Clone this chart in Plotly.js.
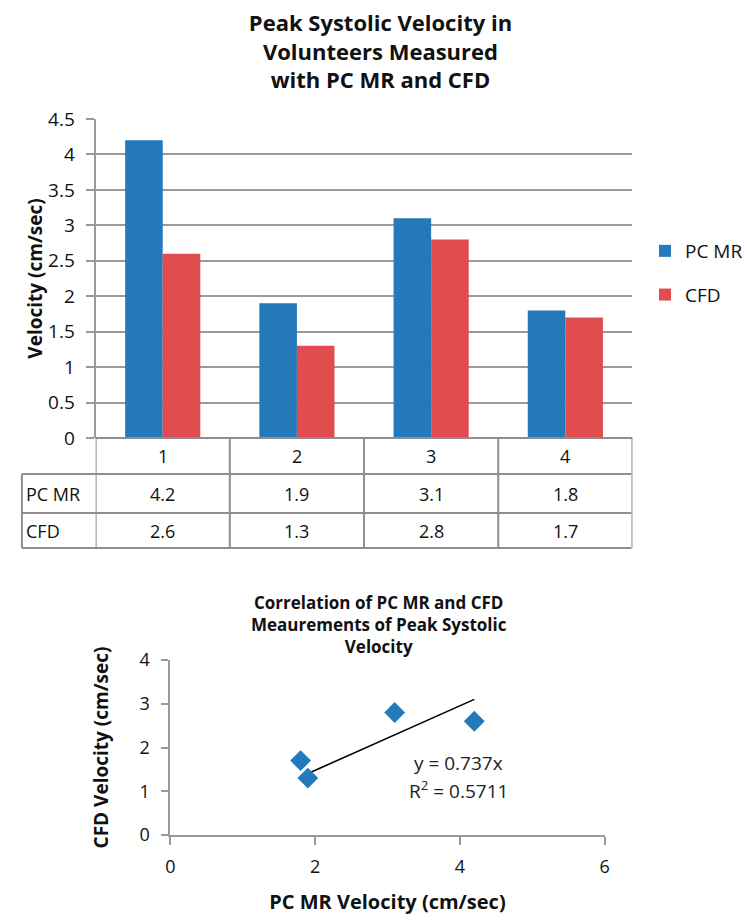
<!DOCTYPE html>
<html>
<head>
<meta charset="utf-8">
<script src="https://cdn.plot.ly/plotly-3.0.1.min.js"></script>
<style>
html,body{margin:0;padding:0;background:#fff;}
#chart{width:748px;height:921px;}
</style>
</head>
<body>
<div id="chart"></div>
<script>
// ---- data ----
const categories = ['1', '2', '3', '4'];
const pcmr = [4.2, 1.9, 3.1, 1.8];
const cfd = [2.6, 1.3, 2.8, 1.7];
const seriesNames = ['PC MR', 'CFD'];
const topTitle = 'Peak Systolic Velocity in<br>Volunteers Measured<br>with PC MR and CFD';
const bottomTitle = 'Correlation of PC MR and CFD<br>Meaurements of Peak Systolic<br>Velocity';
const topYTitle = 'Velocity (cm/sec)';
const scatterXTitle = 'PC MR Velocity (cm/sec)';
const scatterYTitle = 'CFD Velocity (cm/sec)';
const trendX = [1.8, 4.2];
const trendY = [1.33, 3.10];
const eqLines = ['y = 0.737x', 'R<sup>2</sup> = 0.5711'];

// ---- helpers ----
const W = 748, H = 921;
const px = x => x / W;
const py = y => 1 - y / H;
const FONT = '"Open Sans", "Liberation Sans", Arial, sans-serif';
const BLUE = '#2379b9';
const RED = '#e14c4f';
const GRID = '#9a9a9a';
const TXT = '#111111';

const traces = [
  {type: 'bar', x: categories, y: pcmr, name: seriesNames[0], marker: {color: BLUE},
   xaxis: 'x', yaxis: 'y', legendgroup: 'a', hoverinfo: 'y'},
  {type: 'bar', x: categories, y: cfd, name: seriesNames[1], marker: {color: RED},
   xaxis: 'x', yaxis: 'y', legendgroup: 'b', hoverinfo: 'y'},
  {type: 'scatter', mode: 'lines', x: trendX, y: trendY, line: {color: '#000', width: 1.6},
   xaxis: 'x2', yaxis: 'y2', showlegend: false, hoverinfo: 'skip'},
  {type: 'scatter', mode: 'markers', x: pcmr, y: cfd,
   marker: {symbol: 'diamond', size: 16, color: BLUE},
   xaxis: 'x2', yaxis: 'y2', showlegend: false}
];

// table lines
const lineStyle = {color: '#8e8e8e', width: 2};
const shapes = [];
const tTop = 438, r1 = 474, r2 = 513, tBot = 548;
shapes.push({type: 'line', xref: 'x', yref: 'paper', x0: -0.5, x1: 3.5, y0: py(tTop), y1: py(tTop), line: lineStyle});
[r1, r2, tBot].forEach(yy => shapes.push({type: 'line', xref: 'paper', yref: 'paper', x0: px(22), x1: px(634), y0: py(yy), y1: py(yy), line: lineStyle}));
shapes.push({type: 'line', xref: 'paper', yref: 'paper', x0: px(22), x1: px(22), y0: py(r1), y1: py(tBot), line: lineStyle});
for (let i = 0; i <= categories.length; i++) {
  shapes.push({type: 'line', xref: 'x', yref: 'paper', x0: i - 0.5, x1: i - 0.5, y0: py(tTop), y1: py(tBot), line: lineStyle});
}

const annotations = [];
const tFont = {family: FONT, size: 18, color: TXT};
const ann = o => Object.assign({showarrow: false, yanchor: 'middle'}, o);
categories.forEach((c, i) => {
  annotations.push(ann({xref: 'x', yref: 'paper', x: i, y: py((tTop + r1) / 2), text: c, font: tFont}));
  annotations.push(ann({xref: 'x', yref: 'paper', x: i, y: py((r1 + r2) / 2), text: String(pcmr[i]), font: tFont}));
  annotations.push(ann({xref: 'x', yref: 'paper', x: i, y: py((r2 + tBot) / 2), text: String(cfd[i]), font: tFont}));
});
annotations.push(ann({xref: 'paper', yref: 'paper', x: px(24), xanchor: 'left', y: py((r1 + r2) / 2), text: seriesNames[0], font: tFont}));
annotations.push(ann({xref: 'paper', yref: 'paper', x: px(24), xanchor: 'left', y: py((r2 + tBot) / 2), text: seriesNames[1], font: tFont}));
// bottom chart title
annotations.push(ann({xref: 'paper', yref: 'paper', x: px(381), y: py(624), text: bottomTitle,
  font: {family: FONT, size: 17, color: TXT, weight: 'bold'}}));
// trend equation
annotations.push(ann({xref: 'paper', yref: 'paper', x: px(460), y: py(763), text: eqLines[0], font: {family: FONT, size: 19, color: '#222'}}));
annotations.push(ann({xref: 'paper', yref: 'paper', x: px(460), y: py(790), text: eqLines[1], font: {family: FONT, size: 19, color: '#222'}}));

const layout = {
  width: W, height: H,
  margin: {l: 0, r: 0, t: 0, b: 0},
  paper_bgcolor: '#fff', plot_bgcolor: '#fff',
  font: {family: FONT, color: TXT},
  title: {text: topTitle, x: px(382), xanchor: 'center', xref: 'paper', y: 1 - 31 / H, yanchor: 'top', yref: 'container',
          font: {family: FONT, size: 22, color: TXT, weight: 'bold'}},
  barmode: 'group', bargap: 0.44, bargroupgap: 0,
  showlegend: true,
  legend: {x: px(648), xanchor: 'left', y: py(232), yanchor: 'top', traceorder: 'grouped', tracegroupgap: 16,
           font: {family: FONT, size: 19, color: TXT}, itemwidth: 30, bgcolor: 'rgba(0,0,0,0)'},
  xaxis: {domain: [px(96), px(635)], type: 'category', range: [-0.5, 3.5], showticklabels: false, ticks: '',
          showgrid: false, zeroline: false, showline: false, fixedrange: true},
  yaxis: {domain: [py(438), py(119)], range: [0, 4.5], dtick: 0.5, showgrid: true, gridcolor: GRID, gridwidth: 2,
          zeroline: false, showline: true, linecolor: GRID, linewidth: 2, ticks: 'outside', ticklen: 8, tickcolor: GRID, tickwidth: 2,
          ticklabelstandoff: 7, tickfont: {family: FONT, size: 19, color: TXT},
          title: {text: topYTitle, font: {family: FONT, size: 19, color: TXT, weight: 'bold'}, standoff: 0}, fixedrange: true},
  xaxis2: {domain: [px(171), px(607)], range: [0, 6], dtick: 2, anchor: 'y2', showgrid: false, zeroline: false,
           showline: true, linecolor: GRID, linewidth: 2, ticks: 'outside', ticklen: 8, tickcolor: GRID, tickwidth: 2,
           ticklabelstandoff: 6, tickfont: {family: FONT, size: 18, color: TXT},
           title: {text: scatterXTitle, font: {family: FONT, size: 20, color: TXT, weight: 'bold'}, standoff: 18}, fixedrange: true},
  yaxis2: {domain: [py(835), py(660)], range: [0, 4], dtick: 1, anchor: 'x2', showgrid: false, zeroline: false,
           showline: true, linecolor: GRID, linewidth: 2, ticks: 'outside', ticklen: 7, tickcolor: GRID, tickwidth: 2,
           ticklabelstandoff: 8, tickfont: {family: FONT, size: 18, color: TXT},
           title: {text: scatterYTitle, font: {family: FONT, size: 19, color: TXT, weight: 'bold'}, standoff: 26}, fixedrange: true},
  shapes: shapes,
  annotations: annotations
};

Plotly.newPlot('chart', traces, layout, {displayModeBar: false, staticPlot: true});
</script>
</body>
</html>
